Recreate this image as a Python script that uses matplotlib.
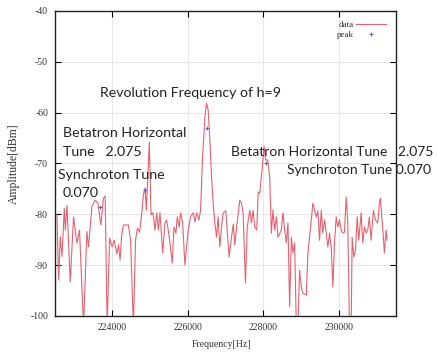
import matplotlib
matplotlib.use("Agg")
import matplotlib.pyplot as plt

# ---- data ----
freq_hz = [222552, 222595, 222639, 222684, 222745, 222771, 222816, 222902, 222989, 223079,
           223147, 223253, 223342, 223384, 223474, 223560, 223632, 223710, 223779, 223824,
           223876, 223942, 224008, 224061, 224132, 224179, 224218, 224258, 224305, 224437,
           224495, 224568, 224626, 224674, 224732, 224790, 224832, 224876, 224911, 224990,
           225034, 225087, 225140, 225184, 225227, 225271, 225342, 225403, 225448, 225516,
           225595, 225640, 225692, 225727, 225779, 225816, 225869, 225929, 226016, 226079,
           226148, 226192, 226237, 226298, 226342, 226395, 226456, 226500, 226543, 226587,
           226632, 226674, 226719, 226764, 226806, 226850, 226903, 226937, 227008, 227095,
           227166, 227206, 227245, 227290, 227377, 227422, 227464, 227527, 227574, 227640,
           227685, 227727, 227772, 227824, 227864, 227903, 227964, 228016, 228061, 228114,
           228167, 228211, 228253, 228298, 228343, 228385, 228474, 228517, 228561, 228606,
           228648, 228693, 228738, 228780, 228824, 228869, 228911, 228956, 229001, 229043,
           229132, 229175, 229246, 229306, 229351, 229396, 229438, 229482, 229527, 229569,
           229614, 229659, 229701, 229746, 229790, 229833, 229877, 229922, 229964, 230009,
           230054, 230096, 230140, 230185, 230227, 230272, 230317, 230343, 230385, 230430,
           230475, 230517, 230580, 230622, 230667, 230712, 230754, 230798, 230843, 230904,
           230956, 231017, 231062, 231088, 231133, 231167, 231193, 231238, 231264]
amp_dbm = [-80.1, -92.9, -84.4, -88.3, -78.8, -83.1, -78.2, -93.3, -80.5, -85.7,
           -83.1, -102.0, -83.4, -86.4, -78.5, -77.2, -77.8, -82.1, -76.8, -76.4,
           -102.0, -84.7, -86.4, -85.1, -87.8, -86.0, -89.0, -84.1, -82.1, -82.1,
           -85.1, -102.0, -85.1, -82.7, -83.5, -79.7, -76.2, -74.8, -79.2, -65.8,
           -80.1, -79.7, -83.1, -79.7, -83.1, -79.7, -87.6, -81.7, -81.1, -84.5,
           -89.6, -82.5, -83.7, -80.5, -82.5, -79.7, -81.7, -90.0, -83.1, -80.5,
           -79.7, -81.5, -79.7, -81.1, -79.2, -68.7, -60.9, -58.1, -59.5, -65.4,
           -72.7, -77.8, -81.7, -84.5, -80.5, -86.4, -82.1, -79.7, -79.3, -88.4,
           -84.1, -81.9, -86.0, -82.7, -77.2, -77.8, -79.7, -93.5, -82.5, -79.2,
           -81.7, -79.2, -82.5, -83.1, -75.6, -75.8, -71.3, -66.6, -69.3, -69.3,
           -72.7, -83.7, -79.2, -83.1, -80.5, -84.5, -83.1, -79.7, -83.1, -85.6,
           -81.7, -98.2, -84.5, -87.6, -85.6, -102.0, -102.0, -91.0, -94.3, -95.5,
           -95.9, -87.6, -82.5, -77.8, -79.2, -80.5, -79.3, -85.1, -79.2, -83.7,
           -81.1, -83.7, -86.4, -83.7, -86.4, -94.3, -85.6, -80.5, -82.5, -81.1,
           -83.1, -83.7, -83.5, -76.6, -81.7, -102.0, -102.0, -84.5, -88.4, -87.0,
           -80.5, -85.1, -79.7, -85.6, -82.5, -83.7, -83.1, -80.5, -85.1, -79.2,
           -81.1, -81.7, -77.8, -76.8, -81.1, -84.5, -87.6, -83.1, -85.1]

peak_freq_hz = [223692, 224876, 226500, 228080]
peak_amp_dbm = [-78.5, -75.2, -63.0, -70.0]

x_ticks = [224000, 226000, 228000, 230000]
y_ticks = [-100, -90, -80, -70, -60, -50, -40]

W, H = 437, 356
fig = plt.figure(figsize=(W / 100, H / 100), dpi=100)
ax = fig.add_axes([55 / W, 1 - 316 / H, (396 - 55) / W, (316 - 11) / H])

ax.plot(freq_hz, amp_dbm, color="#e5626f", lw=0.8, label="data", zorder=3)
ax.plot(peak_freq_hz, peak_amp_dbm, ls="none", marker="+", ms=3.5, mew=0.8,
        color="#6a5fd0", label="peak", zorder=4)

ax.set_xlim(222500, 231500)
ax.set_ylim(-100, -40)
ax.set_xticks(x_ticks)
ax.set_yticks(y_ticks)
ax.set_xticklabels([str(v) for v in x_ticks])
ax.set_yticklabels([str(v) for v in y_ticks])
ax.grid(True, color="#e2e2e2", lw=0.6)
ax.set_axisbelow(True)
ax.tick_params(direction="in", length=4, width=0.8, top=True, right=True,
               labelsize=7, labelcolor="#333333", pad=5)
for lab in ax.get_xticklabels() + ax.get_yticklabels():
    lab.set_family("Liberation Serif")
for s in ax.spines.values():
    s.set_linewidth(1.0)
    s.set_color("#222222")

ax.set_xlabel("Frequency[Hz]", family="Liberation Serif", fontsize=7, color="#333333")
ax.xaxis.set_label_coords(0.487, -0.08)
ax.set_ylabel("Amplitude[dBm]", family="Liberation Serif", fontsize=8.5, color="#333333")
ax.yaxis.set_label_coords(-0.103, 0.5)

leg = ax.legend(loc="upper right", frameon=False, markerfirst=False,
                prop={"family": "Liberation Serif", "size": 6.5},
                handlelength=3.3, labelspacing=0.15, borderaxespad=0.5,
                handletextpad=0.3, borderpad=0.6)
for t in leg.get_texts():
    t.set_color("#333333")

def ftext(x, y, s, size=10.2):
    fig.text(x / W, 1 - y / H, s, ha="left", va="center", fontsize=size,
             family="Lato", color="#222222")

ftext(100, 93, "Revolution Frequency of h=9")
ftext(63, 133, "Betatron Horizontal")
ftext(63, 152, "Tune   2.075")
ftext(58, 175, "Synchroton Tune")
ftext(63, 193, "0.070")
ftext(231, 152, "Betatron Horizontal Tune   2.075", size=10.0)
ftext(287, 170, "Synchroton Tune 0.070", size=10.0)

fig.savefig("out.png", dpi=100)
